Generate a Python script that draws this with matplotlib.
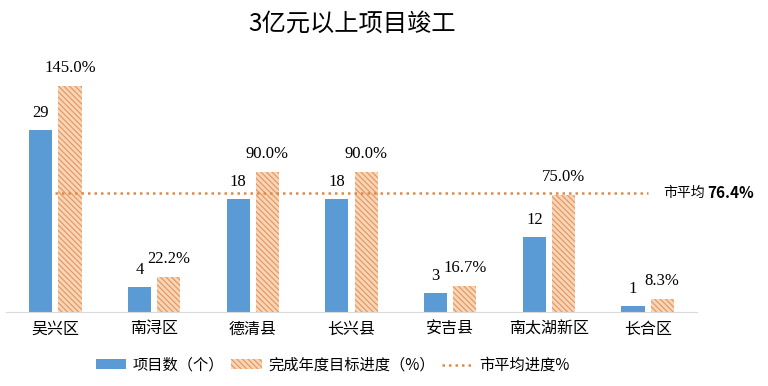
import numpy as np
import matplotlib.pyplot as plt
from matplotlib.patches import Patch
from matplotlib.lines import Line2D

plt.rcParams['font.family'] = ['Noto Sans CJK SC', 'DejaVu Sans']
plt.rcParams['hatch.linewidth'] = 0.8

regions = ['吴兴区', '南浔区', '德清县', '长兴县', '安吉县', '南太湖新区', '长合区']
counts = [29, 4, 18, 18, 3, 12, 1]
progress = [145.0, 22.2, 90.0, 90.0, 16.7, 75.0, 8.3]
city_avg = 76.4

blue = '#5B9BD5'
peach = '#F9D5B8'
hatch_col = '#E3945A'

fig = plt.figure(figsize=(7.68, 3.86), dpi=100)
ax1 = fig.add_axes([6 / 768, 74 / 386, 691 / 768, 252 / 386])
ax2 = ax1.twinx()

x = np.arange(len(regions))
w = 0.235
off = 0.148

ax1.bar(x - off, counts, w, color=blue, zorder=2)
ax2.bar(x + off, progress, w, color=peach, edgecolor=hatch_col,
        linewidth=0, hatch='\\\\\\\\\\\\', zorder=2)
ax2.plot([0, 6], [city_avg, city_avg], color='#E08A48', linestyle=(0, (1, 1.6)),
         linewidth=1.8, zorder=3)

ax1.set_xlim(-0.5, 6.5)
ax1.set_ylim(0, 40.1)
ax2.set_ylim(0, 161.5)

# 数值标签
for xi, c in zip(x, counts):
    ax1.annotate(str(c), (xi - off, c), xytext=(0, 12), textcoords='offset points',
                 ha='center', va='center', fontsize=12, family='Liberation Serif')
for xi, p in zip(x, progress):
    ax2.annotate(f'{p:.1f}%', (xi + off, p), xytext=(0, 13), textcoords='offset points',
                 ha='center', va='center', fontsize=12, family='Liberation Serif')

for ax in (ax1, ax2):
    for s in ['top', 'right', 'left']:
        ax.spines[s].set_visible(False)
    ax.set_yticks([])
ax1.spines['bottom'].set_color('#D9D9D9')
ax2.spines['bottom'].set_visible(False)

ax1.set_xticks(x)
ax1.set_xticklabels(regions, fontsize=11.5)
ax1.tick_params(axis='x', length=0, pad=6)

# 市平均标注
avg_y = 193
fig.text(663 / 768, 1 - avg_y / 386, '市平均', ha='left', va='center', fontsize=10)
fig.text(707 / 768, 1 - avg_y / 386, f'{city_avg}%', ha='left', va='center',
         fontsize=11, fontweight='bold')

fig.text(0.458, 0.94, '3亿元以上项目竣工', ha='center', va='center', fontsize=17.5)

handles = [Patch(facecolor=blue, edgecolor='none'),
           Patch(facecolor=peach, edgecolor=hatch_col, linewidth=0, hatch='\\\\\\\\\\\\'),
           Line2D([0], [0], color='#E08A48', linestyle=(0, (1, 1.6)), linewidth=1.8)]
labels = ['项目数（个）', '完成年度目标进度（%）', '市平均进度%']
fig.legend(handles, labels, loc='center', bbox_to_anchor=(0.433, 0.054), ncol=3,
           frameon=False, fontsize=11, handlelength=2.0, handleheight=0.6,
           columnspacing=0.5, handletextpad=0.4)

fig.savefig('out.png', dpi=100)
